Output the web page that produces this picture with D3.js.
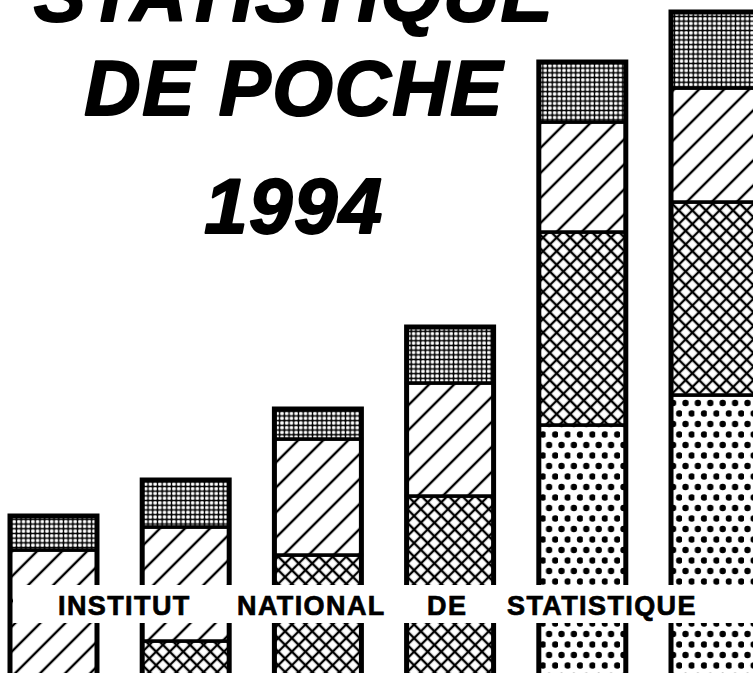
<!DOCTYPE html>
<html>
<head>
<meta charset="utf-8">
<script src="https://cdn.jsdelivr.net/npm/d3@7"></script>
<style>
  html, body { margin: 0; padding: 0; background: #fff; overflow: hidden; }
  svg { display: block; }
</style>
</head>
<body>
<script>
const width = 753
const height = 673

const categories = ['A', 'B', 'C', 'D', 'E', 'F']
const seriesKeys = ['points', 'croisillons', 'hachures', 'trame']
const points = [0, 0, 0, 0, 27.5, 30.5]
const croisillons = [0, 5.9, 14.5, 20.4, 19.3, 19.3]
const hachures = [15.0, 11.4, 11.6, 11.3, 11.0, 11.4]
const trame = [3.4, 4.7, 3.0, 5.6, 6.0, 7.6]

const titleLines = ['STATISTIQUE', 'DE POCHE', '1994']
const bandWords = ['INSTITUT', 'NATIONAL', 'DE', 'STATISTIQUE']

const rows = categories.map((c, i) => ({
  cat: c,
  points: points[i],
  croisillons: croisillons[i],
  hachures: hachures[i],
  trame: trame[i]
}))

const svg = d3.select('body').append('svg')
  .attr('width', width)
  .attr('height', height)

const defs = svg.append('defs')

// patterns (lines kept in the middle of the tile so they are not clipped)
const pDots = defs.append('pattern').attr('id', 'p-points')
  .attr('patternUnits', 'userSpaceOnUse').attr('width', 12.4).attr('height', 21)
pDots.append('rect').attr('width', 12.4).attr('height', 21).attr('fill', '#fff')
pDots.append('circle').attr('cx', 3.5).attr('cy', 4).attr('r', 3.2).attr('fill', '#000')
pDots.append('circle').attr('cx', 9.7).attr('cy', 14.5).attr('r', 3.2).attr('fill', '#000')

const pCross = defs.append('pattern').attr('id', 'p-croisillons')
  .attr('patternUnits', 'userSpaceOnUse').attr('width', 9.6).attr('height', 9.6)
  .attr('patternTransform', 'rotate(45)')
pCross.append('rect').attr('width', 9.6).attr('height', 9.6).attr('fill', '#fff')
pCross.append('path').attr('d', 'M4.8,0V9.6M0,4.8H9.6')
  .attr('stroke', '#000').attr('stroke-width', 2.3)

const pHatch = defs.append('pattern').attr('id', 'p-hachures')
  .attr('patternUnits', 'userSpaceOnUse').attr('width', 17.7).attr('height', 17.7)
  .attr('patternTransform', 'rotate(45)')
pHatch.append('rect').attr('width', 17.7).attr('height', 17.7).attr('fill', '#fff')
pHatch.append('path').attr('d', 'M8.85,0V17.7')
  .attr('stroke', '#000').attr('stroke-width', 2.4)

const pFine = defs.append('pattern').attr('id', 'p-trame')
  .attr('patternUnits', 'userSpaceOnUse').attr('width', 4.7).attr('height', 4.7)
pFine.append('rect').attr('width', 4.7).attr('height', 4.7).attr('fill', '#fff')
pFine.append('path').attr('d', 'M0,2.35H4.7M2.35,0V4.7')
  .attr('stroke', '#000').attr('stroke-width', 1.3)
pFine.append('circle').attr('cx', 2.35).attr('cy', 2.35).attr('r', 1.2).attr('fill', '#000')

// scales
const x = d3.scaleBand()
  .domain(categories)
  .range([10, 758])
  .paddingInner(0.342)
  .paddingOuter(0)

const y = d3.scaleLinear()
  .domain([0, 70])
  .range([700, 0])

const stacked = d3.stack().keys(seriesKeys)(rows)

const layers = svg.append('g').attr('id', 'bars')
  .selectAll('g')
  .data(stacked)
  .join('g')
  .attr('fill', d => `url(#p-${d.key})`)

layers.selectAll('rect')
  .data(d => d.filter(s => s[1] > s[0]))
  .join('rect')
  .attr('x', d => x(d.data.cat))
  .attr('y', d => y(d[1]))
  .attr('width', x.bandwidth())
  .attr('height', d => y(d[0]) - y(d[1]))
  .attr('stroke', '#000')
  .attr('stroke-width', 3.5)

// outer outline of each bar
svg.append('g')
  .selectAll('rect')
  .data(rows)
  .join('rect')
  .attr('x', d => x(d.cat))
  .attr('y', d => y(d.points + d.croisillons + d.hachures + d.trame))
  .attr('width', x.bandwidth())
  .attr('height', d => y(0) - y(d.points + d.croisillons + d.hachures + d.trame))
  .attr('fill', 'none')
  .attr('stroke', '#000')
  .attr('stroke-width', 5)

// white band with the institute name
svg.append('rect')
  .attr('x', 13)
  .attr('y', 585)
  .attr('width', width - 13)
  .attr('height', 38)
  .attr('fill', '#fff')

const wordX = [58, 237, 427, 507]
svg.append('g')
  .selectAll('text')
  .data(bandWords)
  .join('text')
  .attr('x', (d, i) => wordX[i])
  .attr('y', 615)
  .attr('font-family', 'Liberation Sans, Arial, sans-serif')
  .attr('font-weight', 'bold')
  .attr('font-size', 27)
  .attr('letter-spacing', 1.4)
  .attr('fill', '#000')
  .attr('stroke', '#000')
  .attr('stroke-width', 0.7)
  .text(d => d)

// title
const titleY = [21, 115, 233]
svg.append('g')
  .selectAll('text')
  .data(titleLines)
  .join('text')
  .attr('x', 294)
  .attr('y', (d, i) => titleY[i])
  .attr('text-anchor', 'middle')
  .attr('font-family', 'Liberation Sans, Arial, sans-serif')
  .attr('font-weight', 'bold')
  .attr('font-style', 'italic')
  .attr('font-size', 78)
  .attr('letter-spacing', 1.5)
  .attr('fill', '#000')
  .attr('stroke', '#000')
  .attr('stroke-width', 2)
  .attr('stroke-linejoin', 'round')
  .text(d => d)
</script>
</body>
</html>
